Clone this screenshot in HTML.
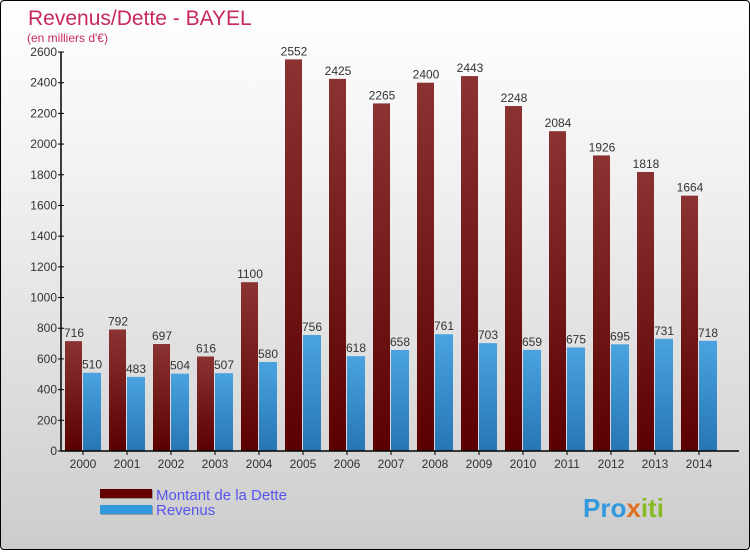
<!DOCTYPE html>
<html><head><meta charset="utf-8"><style>
body{margin:0;width:750px;height:550px;overflow:hidden;font-family:"Liberation Sans",sans-serif}
#wrap{position:absolute;left:0;top:0;width:748px;height:548px;border:1px solid #000;border-radius:4px;background:linear-gradient(#fff,#f2f2f2 30%,#d8d8d8 80%,#cccccc)}
</style></head><body>
<div id="wrap">
<svg id="chart" width="750" height="550">
<defs>
<linearGradient id="gd" x1="0" y1="0" x2="0" y2="1"><stop offset="0" stop-color="#8b3333"/><stop offset="1" stop-color="#5a0000"/></linearGradient>
<linearGradient id="gr" x1="0" y1="0" x2="0" y2="1"><stop offset="0" stop-color="#4aa3df"/><stop offset="1" stop-color="#2676b4"/></linearGradient>
</defs>
<text x="27" y="24" font-size="21" fill="#c8285f">Revenus/Dette - BAYEL</text>
<text x="26" y="41" font-size="12" fill="#c8285f">(en milliers d'€)</text>
<g id="bars"></g>
<g id="axes"></g>
<rect x="100" y="489" width="52" height="9" fill="#999"/>
<rect x="99" y="488" width="52" height="9" fill="#660000"/>
<text x="155" y="499" font-size="15" fill="#5555ee">Montant de la Dette</text>
<rect x="100" y="505" width="52" height="9" fill="#999"/>
<rect x="99" y="504" width="52" height="9" fill="#3399dd"/>
<text x="155" y="514" font-size="15" fill="#5555ee">Revenus</text>
<text x="582" y="516" font-size="26" font-weight="bold" fill="#3399dd">Pro<tspan fill="#e07020">x</tspan><tspan fill="#88bb22">iti</tspan></text>
</svg>
</div>
<script>
const years=["2000","2001","2002","2003","2004","2005","2006","2007","2008","2009","2010","2011","2012","2013","2014"];
const dette=[716,792,697,616,1100,2552,2425,2265,2400,2443,2248,2084,1926,1818,1664];
const revenus=[510,483,504,507,580,756,618,658,761,703,659,675,695,731,718];
const yTicks=[0,200,400,600,800,1000,1200,1400,1600,1800,2000,2200,2400,2600];
const NS="http://www.w3.org/2000/svg";
const y0=450,yTop=51,yMax=2600,x0=60,step=44,first=82;
function y(v){return y0-(v/yMax)*(y0-yTop);}
function xc(i){return first+i*step;}
function mk(t,a,p){const e=document.createElementNS(NS,t);for(const k in a)e.setAttribute(k,a[k]);p.appendChild(e);return e;}
const bars=document.getElementById('bars'),axes=document.getElementById('axes');
years.forEach((yr,i)=>{
  const c=xc(i);
  let r=mk('rect',{x:c-18,y:y(dette[i]),width:17,height:y0-y(dette[i]),fill:'url(#gd)'},bars);
  
  
  let t=mk('text',{x:c-9,y:y(dette[i])-4,'font-size':12,fill:'#333','text-anchor':'middle'},bars);t.textContent=dette[i];
  
  
  r=mk('rect',{x:c,y:y(revenus[i]),width:18,height:y0-y(revenus[i]),fill:'url(#gr)'},bars);
  
  
  t=mk('text',{x:c+9,y:y(revenus[i])-4,'font-size':12,fill:'#333','text-anchor':'middle'},bars);t.textContent=revenus[i];
  
  
  t=mk('text',{x:c,y:467,'font-size':12,fill:'#333','text-anchor':'middle'},axes);t.textContent=yr;
  
  
  let l=mk('line',{x1:c,x2:c,y1:450,y2:454,stroke:'#000'},axes);
  
  
});
yTicks.forEach(v=>{
  let l=mk('line',{x1:57,x2:63,y1:y(v),y2:y(v),stroke:'#000'},axes);
  
  
  let t=mk('text',{x:56,y:y(v)+4,'font-size':12,fill:'#333','text-anchor':'end'},axes);t.textContent=v;
  
  
});
let ax=mk('line',{x1:x0,x2:x0,y1:yTop,y2:y0,stroke:'#000','stroke-width':1.5},axes);


ax=mk('line',{x1:x0,x2:738,y1:y0,y2:y0,stroke:'#000','stroke-width':1.5},axes);


</script>
</body></html>
